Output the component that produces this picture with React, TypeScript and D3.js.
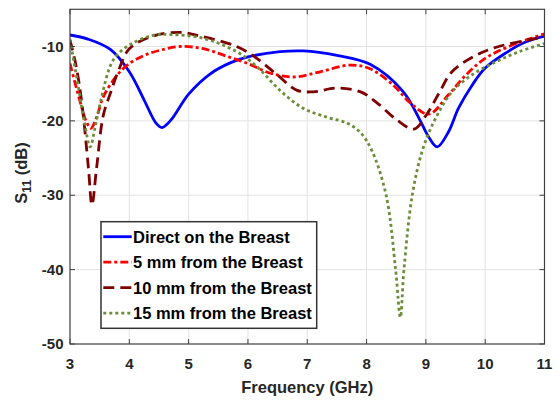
import React from 'react';
import * as d3 from 'd3';

type Pt = [number, number];

// frequency (GHz), S11 (dB)
const directOnBreast: Pt[] = [
  [3.0, -8.45], [3.3, -9.0], [3.68, -10.4], [4.0, -13.4], [4.25, -17.2], [4.45, -20.3],
  [4.55, -20.9], [4.7, -19.9], [5.0, -16.4], [5.36, -13.7], [5.7, -12.2],
  [6.0, -11.4], [6.54, -10.7], [6.93, -10.6], [7.5, -11.2], [8.06, -12.4], [8.62, -16.1],
  [8.9, -19.9], [9.05, -22.2], [9.19, -23.5], [9.38, -21.5], [9.55, -18.3], [9.78, -15.2],
  [10.0, -12.9], [10.34, -10.9], [10.68, -9.4], [11.0, -8.6],
];

const fiveMm: Pt[] = [
  [3.0, -12.3], [3.17, -17.4], [3.27, -20.0], [3.35, -21.0], [3.45, -19.5], [3.56, -16.8],
  [3.8, -13.8], [4.0, -12.3], [4.25, -11.2], [4.52, -10.5], [4.86, -10.0], [5.25, -10.3],
  [5.6, -11.2], [6.0, -12.3], [6.38, -13.6], [6.77, -14.1], [7.22, -13.4], [7.72, -12.5],
  [8.06, -13.0], [8.45, -15.2], [8.74, -17.6], [9.05, -19.1], [9.38, -16.5], [9.68, -13.8],
  [10.0, -11.6], [10.4, -10.0], [11.0, -8.3],
];

const tenMm: Pt[] = [
  [3.0, -9.1], [3.1, -12.5], [3.2, -17.6], [3.31, -26.3], [3.37, -31.3], [3.45, -26.2],
  [3.56, -19.3], [3.68, -16.3], [3.82, -13.2], [4.0, -10.3], [4.4, -8.6], [4.86, -8.1],
  [5.14, -8.5], [5.81, -10.0], [6.15, -11.6], [6.49, -13.8], [6.83, -15.9], [7.1, -16.1],
  [7.5, -15.6], [7.9, -16.1], [8.18, -17.6], [8.5, -19.8], [8.8, -21.1], [9.0, -19.3],
  [9.22, -16.3], [9.44, -13.4], [9.84, -11.2], [10.23, -10.0], [11.0, -8.7],
];

const fifteenMm: Pt[] = [
  [3.0, -9.1], [3.14, -15.4], [3.25, -20.5], [3.34, -23.5], [3.42, -21.0], [3.51, -17.6],
  [3.73, -11.8], [4.0, -9.8], [4.4, -8.5], [4.69, -8.4], [5.25, -8.9], [5.81, -10.7],
  [6.15, -12.7], [6.54, -15.9], [6.93, -18.3], [7.33, -19.5], [7.67, -20.3], [7.9, -21.6],
  [8.09, -24.0], [8.33, -30.0], [8.49, -40.0], [8.57, -46.4], [8.63, -40.0], [8.77, -30.0],
  [8.94, -24.0], [9.16, -19.7], [9.44, -16.1], [9.78, -13.8], [10.17, -12.1], [10.57, -10.7],
  [11.0, -9.6],
];

const seriesNames = [
  'Direct on the Breast',
  '5 mm from the Breast',
  '10 mm from the Breast',
  '15 mm from the Breast',
];

const xTicks = [3, 4, 5, 6, 7, 8, 9, 10, 11];
const yTicks = [-10, -20, -30, -40, -50];

const W = 557;
const H = 401;
const margin = { top: 9.3, right: 12.5, bottom: 57, left: 70 };
const FONT = '"Liberation Sans", Arial, sans-serif';

const styles = [
  { color: '#0000ff', dash: undefined as string | undefined },
  { color: '#ff0000', dash: '8,3,3,3' },
  { color: '#7f0000', dash: '11,6' },
  { color: '#6b8e3a', dash: '3,3' },
];

export default function App() {
  const x = d3.scaleLinear().domain([3, 11]).range([margin.left, W - margin.right]);
  const y = d3.scaleLinear().domain([-50, -5]).range([H - margin.bottom, margin.top]);

  const line = d3
    .line<Pt>()
    .x((d) => x(d[0]))
    .y((d) => y(d[1]))
    .curve(d3.curveCatmullRom.alpha(0.5));

  const allSeries = [directOnBreast, fiveMm, tenMm, fifteenMm];
  const [x0, x1] = x.range();
  const [yb, yt] = y.range();
  const axisColor = '#404040';
  const tickLen = 5;

  // legend placement
  const lg = { x: 101, y: 221.7, w: 215.7, h: 106.6, row: 25.5 };

  return (
    <svg
      width={W}
      height={H}
      style={{ position: 'absolute', left: 0, top: 0, background: '#fff' }}
      fontFamily={FONT}
      fontWeight="bold"
    >
      <defs>
        <clipPath id="plot">
          <rect x={x0} y={yt} width={x1 - x0} height={yb - yt} />
        </clipPath>
      </defs>

      {/* grid */}
      <g stroke="#e3e3e3" strokeWidth={1}>
        {xTicks.slice(1, -1).map((t) => (
          <line key={'gx' + t} x1={x(t)} x2={x(t)} y1={yt} y2={yb} />
        ))}
        {yTicks.slice(0, -1).map((t) => (
          <line key={'gy' + t} x1={x0} x2={x1} y1={y(t)} y2={y(t)} />
        ))}
      </g>

      {/* curves */}
      <g clipPath="url(#plot)" fill="none">
        {allSeries.map((s, i) => (
          <path
            key={seriesNames[i]}
            d={line(s) || ''}
            stroke={styles[i].color}
            strokeWidth={2.8}
            strokeDasharray={styles[i].dash}
          />
        ))}
      </g>

      {/* frame and ticks */}
      <rect x={x0} y={yt} width={x1 - x0} height={yb - yt} fill="none" stroke={axisColor} strokeWidth={1.2} />
      <g stroke={axisColor} strokeWidth={1}>
        {xTicks.map((t) => (
          <g key={'tx' + t}>
            <line x1={x(t)} x2={x(t)} y1={yb} y2={yb - tickLen} />
            <line x1={x(t)} x2={x(t)} y1={yt} y2={yt + tickLen} />
          </g>
        ))}
        {yTicks.map((t) => (
          <g key={'ty' + t}>
            <line x1={x0} x2={x0 + tickLen} y1={y(t)} y2={y(t)} />
            <line x1={x1} x2={x1 - tickLen} y1={y(t)} y2={y(t)} />
          </g>
        ))}
      </g>

      {/* tick labels */}
      <g fontSize={15} fill="#262626">
        {xTicks.map((t) => (
          <text key={'lx' + t} x={x(t)} y={yb + 24.5} textAnchor="middle">
            {t}
          </text>
        ))}
        {yTicks.map((t) => (
          <text key={'ly' + t} x={x0 - 6.5} y={y(t)} dy="0.35em" textAnchor="end">
            {t}
          </text>
        ))}
      </g>

      {/* axis titles */}
      <text x={(x0 + x1) / 2} y={393} textAnchor="middle" fontSize={16.5} fill="#262626">
        Frequency (GHz)
      </text>
      <text transform="translate(27,173) rotate(-90)" textAnchor="middle" fontSize={16.5} fill="#262626">
        S<tspan fontSize={12} dy={4}>11</tspan>
        <tspan dy={-4}> (dB)</tspan>
      </text>

      {/* legend */}
      <rect x={lg.x} y={lg.y} width={lg.w} height={lg.h} fill="#fff" stroke="#333" strokeWidth={1.5} />
      {seriesNames.map((name, i) => {
        const cy = lg.y + 15 + i * lg.row;
        return (
          <g key={'lg' + i}>
            <line
              x1={lg.x + 2.3}
              x2={lg.x + 30.7}
              y1={cy}
              y2={cy}
              stroke={styles[i].color}
              strokeWidth={2.8}
              strokeDasharray={styles[i].dash}
            />
            <text x={lg.x + 32} y={cy} dy="0.36em" fontSize={16.5} fill="#000">
              {name}
            </text>
          </g>
        );
      })}
    </svg>
  );
}
